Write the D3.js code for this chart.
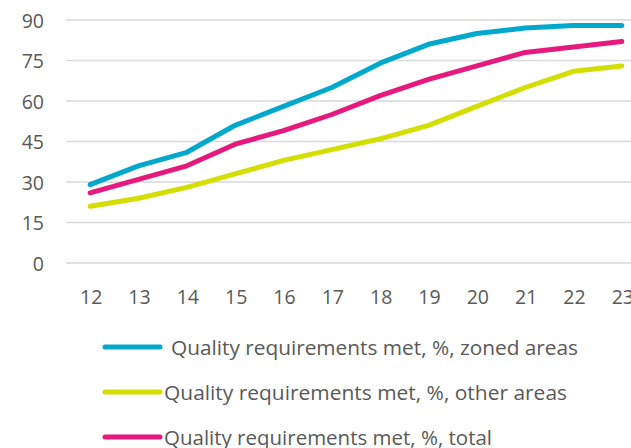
<!DOCTYPE html>
<html>
<head>
<meta charset="utf-8">
<script src="https://cdn.jsdelivr.net/npm/d3@7"></script>
<style>
  body { margin: 0; background: #fff; overflow: hidden; }
  svg { display: block; }
  text { font-family: "Open Sans", "Liberation Sans", sans-serif; fill: #595959; }
</style>
</head>
<body>
<svg id="chart" width="631" height="448"></svg>
<script>
// anos (eixo x)
const years = ["12", "13", "14", "15", "16", "17", "18", "19", "20", "21", "22", "23"];
const yTicks = [0, 15, 30, 45, 60, 75, 90];

// séries
const zoned = [29, 36, 41, 51, 58, 65, 74, 81, 85, 87, 88, 88];
const other = [21, 24, 28, 33, 38, 42, 46, 51, 58, 65, 71, 73];
const total = [26, 31, 36, 44, 49, 55, 62, 68, 73, 78, 80, 82];

const seriesNames = [
  " Quality requirements met, %, zoned areas",
  "Quality requirements met, %, other areas",
  "Quality requirements met, %, total"
];
const seriesColors = ["#00a8cc", "#d2df00", "#e6197d"];

const svg = d3.select("#chart");

// área do gráfico (passa da borda direita, como no original)
const plotLeft = 66, plotRight = 646, plotTop = 20, plotBottom = 263;

const x = d3.scaleBand().domain(years).range([plotLeft, plotRight]);
const y = d3.scaleLinear().domain([0, 90]).range([plotBottom, plotTop]);

// linhas de grade
svg.append("g")
  .selectAll("line")
  .data(yTicks)
  .join("line")
  .attr("x1", plotLeft)
  .attr("x2", plotRight)
  .attr("y1", (d) => y(d))
  .attr("y2", (d) => y(d))
  .attr("stroke", "#d9d9d9")
  .attr("stroke-width", 1.3);

// rótulos do eixo y
svg.append("g")
  .selectAll("text")
  .data(yTicks)
  .join("text")
  .attr("x", 44)
  .attr("y", (d) => y(d))
  .attr("text-anchor", "end")
  .attr("dominant-baseline", "central")
  .style("font-size", "19.5px")
  .text((d) => d);

// rótulos do eixo x
svg.append("g")
  .selectAll("text")
  .data(years)
  .join("text")
  .attr("x", (d) => x(d) + x.bandwidth() / 2 + 1)
  .attr("y", 296)
  .attr("text-anchor", "middle")
  .attr("dominant-baseline", "central")
  .style("font-size", "19.5px")
  .text((d) => d);

const line = d3.line()
  .x((d, i) => x(years[i]) + x.bandwidth() / 2)
  .y((d) => y(d));

const allSeries = [zoned, other, total];

// ordem de desenho: amarelo, rosa, azul
[1, 2, 0].forEach((k) => {
  svg.append("path")
    .datum(allSeries[k])
    .attr("d", line)
    .attr("fill", "none")
    .attr("stroke", seriesColors[k])
    .attr("stroke-width", 5)
    .attr("stroke-linecap", "round")
    .attr("stroke-linejoin", "round");
});

// legenda
const legendY = [347, 392, 437];
const legend = svg.append("g")
  .selectAll("g")
  .data(seriesNames)
  .join("g")
  .attr("transform", (d, i) => `translate(0,${legendY[i]})`);

legend.append("line")
  .attr("x1", 105)
  .attr("x2", 160)
  .attr("stroke", (d, i) => seriesColors[i])
  .attr("stroke-width", 5)
  .attr("stroke-linecap", "round");

legend.append("text")
  .attr("x", (d, i) => (i === 0 ? 171 : 164))
  .attr("dominant-baseline", "central")
  .style("font-size", "19.5px")
  .attr("textLength", (d, i) => [407, 403, 328][i])
  .attr("lengthAdjust", "spacingAndGlyphs")
  .text((d) => d.trim());
</script>
</body>
</html>
